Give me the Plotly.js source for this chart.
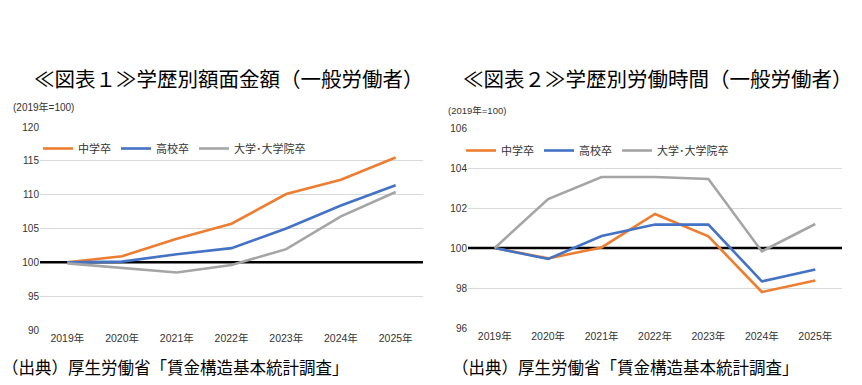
<!DOCTYPE html>
<html><head><meta charset="utf-8">
<script src="https://cdn.plot.ly/plotly-3.0.1.min.js"></script>
<style>html,body{margin:0;padding:0;background:#fff}#c{width:862px;height:385px}</style>
</head><body><div id="c"></div>
<script>
const years = ['2019年','2020年','2021年','2022年','2023年','2024年','2025年'];
const seriesNames = ['中学卒','高校卒','大学･大学院卒'];
const colors = ['#ED7D31','#4472C4','#A5A5A5'];
// 図表1 額面金額 (2019=100)
const wageJunior = [100, 100.9, 103.5, 105.7, 110.1, 112.2, 115.5];
const wageHigh   = [100, 100.1, 101.2, 102.1, 105.0, 108.4, 111.4];
const wageUniv   = [99.85, 99.2, 98.5, 99.6, 101.95, 106.8, 110.4];
// 図表2 労働時間 (2019=100)
const hoursJunior = [100, 99.48, 100.03, 101.7, 100.58, 97.8, 98.37];
const hoursHigh   = [100, 99.45, 100.6, 101.17, 101.17, 98.33, 98.93];
const hoursUniv   = [100, 102.45, 103.55, 103.55, 103.45, 99.83, 101.2];
const baseline = 100;

const F = '"Liberation Sans", Arial, "Noto Sans CJK JP", sans-serif';
const FJ = '"Noto Sans CJK JP", sans-serif';

const traces = [];
[wageJunior, wageHigh, wageUniv].forEach((d,i)=>traces.push({
  x: years, y: d, type:'scatter', mode:'lines', name: seriesNames[i],
  line:{color:colors[i], width:2.6}, xaxis:'x', yaxis:'y', legend:'legend'
}));
[hoursJunior, hoursHigh, hoursUniv].forEach((d,i)=>traces.push({
  x: years, y: d, type:'scatter', mode:'lines', name: seriesNames[i],
  line:{color:colors[i], width:2.6}, xaxis:'x2', yaxis:'y2', legend:'legend2'
}));

const W=862,H=385;
const px=v=>v/W, py=v=>1-v/H;
const axX = {type:'category', showgrid:false, zeroline:false, showline:false, ticks:'',
  tickfont:{family:F,size:10.5,color:'#333'}, range:[-0.5,6.5], fixedrange:true};
const axY = {showgrid:true, gridcolor:'#D9D9D9', gridwidth:1, zeroline:false, showline:false,
  ticks:'', tickfont:{family:F,size:10,color:'#333'}};

const layout = {
  width:W, height:H, margin:{l:0,r:0,t:0,b:0}, paper_bgcolor:'#fff', plot_bgcolor:'#fff',
  showlegend:true,
  xaxis: Object.assign({}, axX, {domain:[px(40),px(423)], anchor:'y'}),
  yaxis: Object.assign({}, axY, {domain:[py(330),py(127)], range:[90,120], dtick:5, anchor:'x'}),
  xaxis2: Object.assign({}, axX, {domain:[px(468),px(842)], anchor:'y2'}),
  yaxis2: Object.assign({}, axY, {domain:[py(328),py(128)], range:[96,106], dtick:2, anchor:'x2'}),
  legend:{orientation:'h', x:px(38), y:py(134), xanchor:'left', yanchor:'top',
    font:{family:FJ,size:11,color:'#333'}, bgcolor:'rgba(0,0,0,0)', itemwidth:30, tracegroupgap:0},
  legend2:{orientation:'h', x:px(461), y:py(136), xanchor:'left', yanchor:'top',
    font:{family:FJ,size:11,color:'#333'}, bgcolor:'rgba(0,0,0,0)', itemwidth:30, tracegroupgap:0},
  shapes:[
    {type:'line', xref:'x', yref:'y', x0:-0.5, x1:6.5, y0:baseline, y1:baseline, line:{color:'#000',width:2.5}, layer:'between'},
    {type:'line', xref:'x2', yref:'y2', x0:-0.5, x1:6.5, y0:baseline, y1:baseline, line:{color:'#000',width:2.5}, layer:'between'}
  ],
  annotations:[
    {text:'≪図表１≫学歴別額面金額（一般労働者）', xref:'paper', yref:'paper', x:px(229), y:py(78),
      xanchor:'center', yanchor:'middle', showarrow:false, font:{family:FJ,size:20.5,color:'#000'}},
    {text:'≪図表２≫学歴別労働時間（一般労働者）', xref:'paper', yref:'paper', x:px(658), y:py(78),
      xanchor:'center', yanchor:'middle', showarrow:false, font:{family:FJ,size:20.5,color:'#000'}},
    {text:'(2019年=100)', xref:'paper', yref:'paper', x:px(11), y:py(107),
      xanchor:'left', yanchor:'middle', showarrow:false, font:{family:F,size:10,color:'#333'}},
    {text:'(2019年=100)', xref:'paper', yref:'paper', x:px(446), y:py(110),
      xanchor:'left', yanchor:'middle', showarrow:false, font:{family:F,size:9.5,color:'#333'}},
    {text:'（出典）厚生労働省「賃金構造基本統計調査」', xref:'paper', yref:'paper', x:px(0), y:py(367),
      xanchor:'left', yanchor:'middle', showarrow:false, font:{family:FJ,size:16.5,color:'#000'}},
    {text:'（出典）厚生労働省「賃金構造基本統計調査」', xref:'paper', yref:'paper', x:px(450), y:py(367),
      xanchor:'left', yanchor:'middle', showarrow:false, font:{family:FJ,size:16.5,color:'#000'}}
  ]
};
Plotly.newPlot('c', traces, layout, {staticPlot:true});
</script></body></html>
